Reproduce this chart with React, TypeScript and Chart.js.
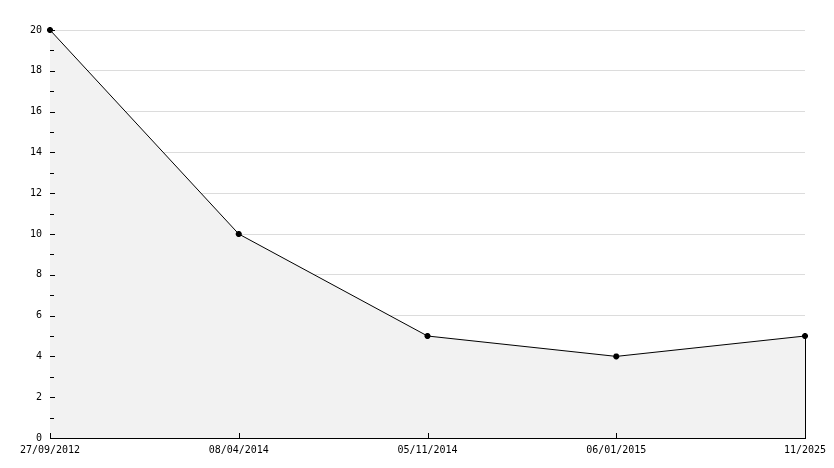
import React, { useEffect, useRef } from "react";
import { Chart, registerables } from "chart.js";

Chart.register(...registerables);

const categories = ["27/09/2012", "08/04/2014", "05/11/2014", "06/01/2015", "11/2025"];
const values = [20, 10, 5, 4, 5];
const yMin = 0;
const yMax = 20;

const tickPlugin = {
  id: "innerTicks",
  afterDatasetsDraw(chart: any) {
    const { ctx, chartArea, scales } = chart;
    const x = scales.x;
    const y = scales.y;
    ctx.save();
    ctx.strokeStyle = "#000";
    ctx.lineWidth = 1;
    ctx.beginPath();
    for (let v = yMin; v <= yMax; v++) {
      const py = Math.round(y.getPixelForValue(v)) + 0.5;
      const len = v % 2 === 0 ? 5 : 4;
      ctx.moveTo(chartArea.left, py);
      ctx.lineTo(chartArea.left + len, py);
    }
    for (let i = 0; i < categories.length; i++) {
      const px = Math.round(x.getPixelForValue(i)) + 0.5;
      ctx.moveTo(px, chartArea.bottom);
      ctx.lineTo(px, chartArea.bottom - 5);
    }
    const last = values.length - 1;
    const lx = Math.round(x.getPixelForValue(last)) + 0.5;
    ctx.moveTo(lx, y.getPixelForValue(values[last]));
    ctx.lineTo(lx, y.getPixelForValue(0));
    ctx.stroke();
    ctx.restore();
  },
};

export default function App() {
  const ref = useRef<HTMLCanvasElement | null>(null);
  useEffect(() => {
    if (!ref.current) return;
    Chart.defaults.font.family = "'DejaVu Sans Mono', monospace";
    Chart.defaults.font.size = 10;
    Chart.defaults.color = "#000";
    const chart = new Chart(ref.current, {
      type: "line",
      data: {
        labels: categories,
        datasets: [
          {
            data: values,
            borderColor: "#000",
            borderWidth: 1,
            backgroundColor: "#f2f2f2",
            fill: "origin",
            tension: 0,
            pointStyle: "star",
            pointRadius: 3,
            pointBorderWidth: 2,
            pointBackgroundColor: "#000",
            pointBorderColor: "#000",
            clip: false as any,
          },
        ],
      },
      options: {
        animation: false,
        responsive: false,
        maintainAspectRatio: false,
        layout: { padding: { top: 30, right: 29, left: 0, bottom: 0 } },
        plugins: { legend: { display: false }, tooltip: { enabled: false } },
        scales: {
          x: {
            type: "category",
            offset: false,
            grid: { display: false, drawTicks: false },
            border: { display: true, color: "#000", width: 1 },
            ticks: { padding: 6, maxRotation: 0, autoSkip: false, color: "#000" },
            afterFit: (s: any) => {
              s.height = 30;
            },
          },
          y: {
            min: yMin,
            max: yMax,
            grid: {
              drawTicks: false,
              color: (c: any) => (c.tick && c.tick.value % 2 === 0 ? "#dcdcdc" : "rgba(0,0,0,0)"),
              lineWidth: 1,
            },
            border: { display: true, color: "#000", width: 1 },
            ticks: {
              stepSize: 1,
              padding: 8,
              color: "#000",
              autoSkip: false,
              callback: (v: any) => (Number(v) % 2 === 0 ? String(v) : ""),
            },
            afterFit: (s: any) => {
              s.width = 50;
            },
          },
        },
      },
      plugins: [tickPlugin],
    });
    return () => chart.destroy();
  }, []);
  return (
    <div style={{ position: "absolute", left: 0, top: 0, width: 834, height: 468, background: "#fff" }}>
      <canvas ref={ref} width={834} height={468} style={{ width: 834, height: 468, display: "block" }} />
    </div>
  );
}
